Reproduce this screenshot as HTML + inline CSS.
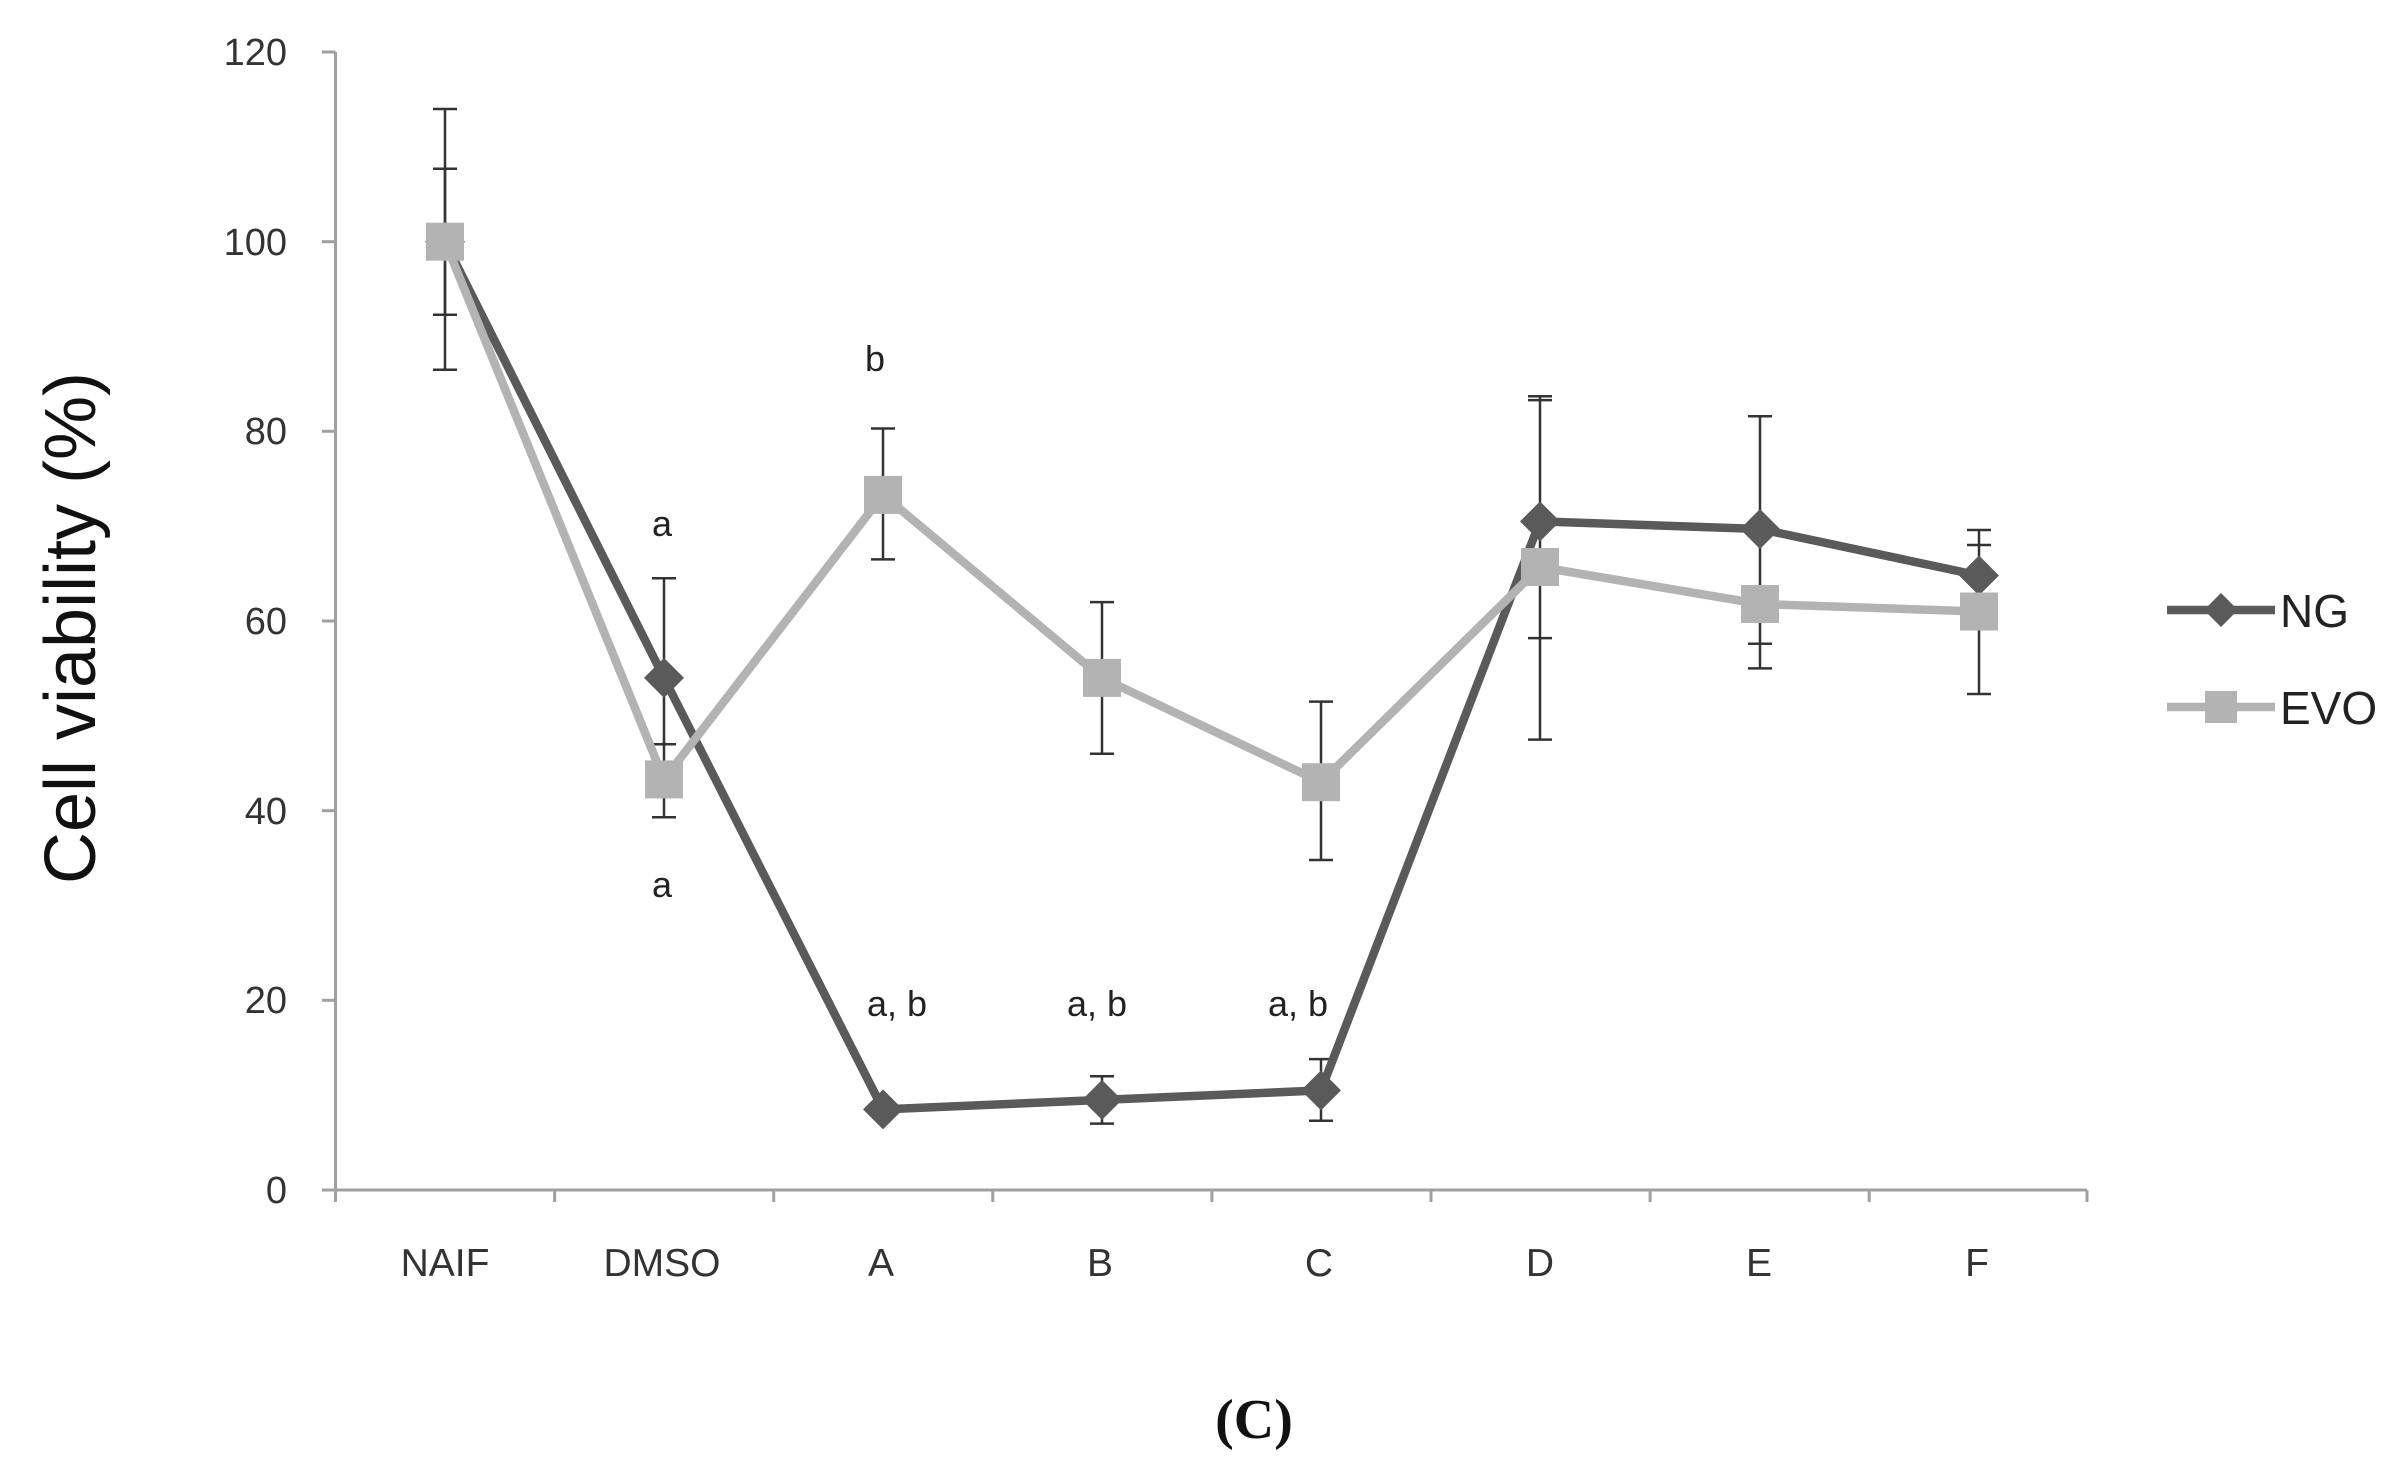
<!DOCTYPE html>
<html><head><meta charset="utf-8"><style>html,body{margin:0;padding:0;background:#fff}svg{display:block}</style></head>
<body>
<svg width="2402" height="1481" viewBox="0 0 2402 1481" xmlns="http://www.w3.org/2000/svg" font-family="Liberation Sans, DejaVu Sans, sans-serif">
<rect width="2402" height="1481" fill="#fff"/>
<g stroke="#a0a0a0" stroke-width="3" fill="none">
<line x1="335.5" y1="52" x2="335.5" y2="1202"/>
<line x1="335.5" y1="1190" x2="2087" y2="1190"/>
<line x1="322" y1="52" x2="335.5" y2="52"/>
<line x1="322" y1="241.7" x2="335.5" y2="241.7"/>
<line x1="322" y1="431.3" x2="335.5" y2="431.3"/>
<line x1="322" y1="621" x2="335.5" y2="621"/>
<line x1="322" y1="810.7" x2="335.5" y2="810.7"/>
<line x1="322" y1="1000.3" x2="335.5" y2="1000.3"/>
<line x1="322" y1="1190" x2="335.5" y2="1190"/>
<line x1="554.6" y1="1190" x2="554.6" y2="1202"/>
<line x1="773.7" y1="1190" x2="773.7" y2="1202"/>
<line x1="992.8" y1="1190" x2="992.8" y2="1202"/>
<line x1="1211.9" y1="1190" x2="1211.9" y2="1202"/>
<line x1="1431" y1="1190" x2="1431" y2="1202"/>
<line x1="1650.1" y1="1190" x2="1650.1" y2="1202"/>
<line x1="1869.2" y1="1190" x2="1869.2" y2="1202"/>
<line x1="2087" y1="1190" x2="2087" y2="1202"/>
</g>
<g font-size="38" fill="#333" text-anchor="end">
<text x="287" y="65">120</text>
<text x="287" y="255">100</text>
<text x="287" y="444">80</text>
<text x="287" y="634">60</text>
<text x="287" y="824">40</text>
<text x="287" y="1013">20</text>
<text x="287" y="1203">0</text>
</g>
<g font-size="39" fill="#333" text-anchor="middle">
<text x="445" y="1276">NAIF</text>
<text x="662" y="1276">DMSO</text>
<text x="881" y="1276">A</text>
<text x="1100" y="1276">B</text>
<text x="1319" y="1276">C</text>
<text x="1540" y="1276">D</text>
<text x="1759" y="1276">E</text>
<text x="1977" y="1276">F</text>
</g>
<text transform="translate(95,628) rotate(-90)" font-size="72" fill="#111" text-anchor="middle">Cell viability (%)</text>
<g font-size="36" fill="#222" text-anchor="middle">
<text x="662" y="536">a</text>
<text x="662" y="897">a</text>
<text x="875" y="371">b</text>
<text x="897" y="1016">a, b</text>
<text x="1097" y="1016">a, b</text>
<text x="1298" y="1016">a, b</text>
</g>
<g stroke="#333" stroke-width="2.5" fill="none">
<path d="M445 109V369.7M433 109h24M433 369.7h24"/>
<path d="M445 168.7V314.7M433 168.7h24M433 314.7h24"/>
<path d="M664 578.3V744.3M652 578.3h24M652 744.3h24"/>
<path d="M664 741.5V817.3M652 817.3h24"/>
<path d="M883 428.5V559.4M871 428.5h24M871 559.4h24"/>
<path d="M1102 602.1V753.8M1090 602.1h24M1090 753.8h24"/>
<path d="M1102 1076.2V1123.6M1090 1076.2h24M1090 1123.6h24"/>
<path d="M1321 701.6V860M1309 701.6h24M1309 860h24"/>
<path d="M1321 1059.1V1120.8M1309 1059.1h24M1309 1120.8h24"/>
<path d="M1540 396.3V739.6M1528 396.3h24M1528 400.1h24M1528 638.1h24M1528 739.6h24"/>
<path d="M1760 416.2V668.4M1748 416.2h24M1748 643.8h24M1748 668.4h24"/>
<path d="M1979 530V694M1967 530h24M1967 545h24M1967 694h24"/>
</g>
<polyline fill="none" stroke="#5a5a5a" stroke-width="8.5" stroke-linejoin="round" points="445,241.7 664,677.9 883,1109.4 1102,1099.9 1321,1090.4 1540,521.4 1760,529 1979,575.5"/>
<g fill="#5a5a5a">
<path d="M445 221.7l20 20-20 20-20-20z"/>
<path d="M664 657.9l20 20-20 20-20-20z"/>
<path d="M883 1089.4l20 20-20 20-20-20z"/>
<path d="M1102 1079.9l20 20-20 20-20-20z"/>
<path d="M1321 1070.4l20 20-20 20-20-20z"/>
<path d="M1540 501.4l20 20-20 20-20-20z"/>
<path d="M1760 509l20 20-20 20-20-20z"/>
<path d="M1979 555.5l20 20-20 20-20-20z"/>
</g>
<polyline fill="none" stroke="#b3b3b3" stroke-width="8.5" stroke-linejoin="round" points="445,241.7 664,779.4 883,494.9 1102,677.9 1321,782.2 1540,567 1760,604 1979,611.5"/>
<g fill="#b3b3b3">
<rect x="426" y="222.7" width="38" height="38"/>
<rect x="645" y="760.4" width="38" height="38"/>
<rect x="864" y="475.9" width="38" height="38"/>
<rect x="1083" y="658.9" width="38" height="38"/>
<rect x="1302" y="763.2" width="38" height="38"/>
<rect x="1521" y="548" width="38" height="38"/>
<rect x="1741" y="585" width="38" height="38"/>
<rect x="1960" y="592.5" width="38" height="38"/>
</g>
<line x1="2167" y1="610" x2="2275" y2="610" stroke="#5a5a5a" stroke-width="8.5"/>
<path d="M2221 593l17 17-17 17-17-17z" fill="#5a5a5a"/>
<text x="2280" y="627" font-size="46" fill="#222">NG</text>
<line x1="2167" y1="707" x2="2275" y2="707" stroke="#b3b3b3" stroke-width="8.5"/>
<rect x="2205" y="691" width="32" height="32" fill="#b3b3b3"/>
<text x="2280" y="724" font-size="46" fill="#222">EVO</text>
<text x="1254" y="1438" font-size="56" font-weight="bold" font-family="Liberation Serif, serif" text-anchor="middle" fill="#111">(C)</text>
</svg>
</body></html>
